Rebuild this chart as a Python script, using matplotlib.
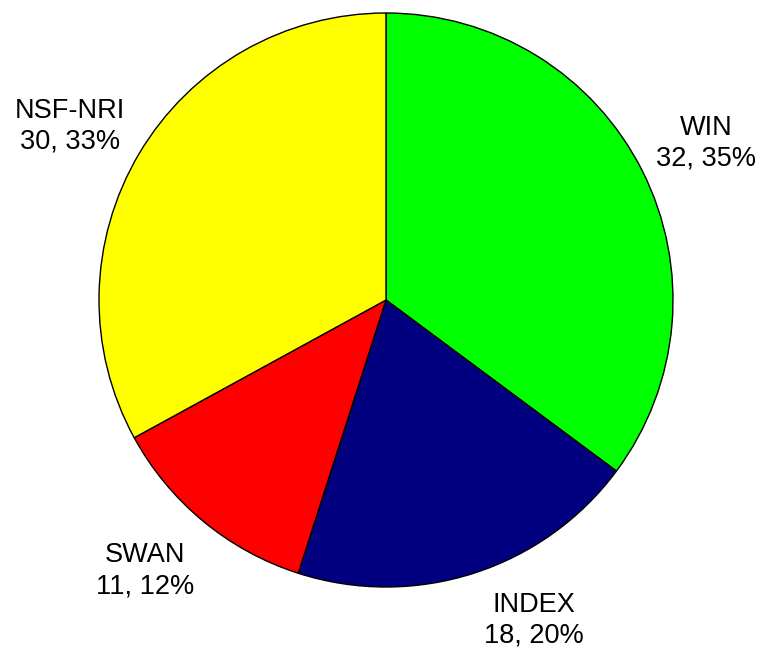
import matplotlib
matplotlib.use("Agg")
import matplotlib.pyplot as plt

names = ["WIN", "INDEX", "SWAN", "NSF-NRI"]
counts = [32, 18, 11, 30]
colors = ["#00ff00", "#000080", "#ff0000", "#ffff00"]

total = sum(counts)
labels = ["%s\n%d, %d%%" % (n, c, round(100.0 * c / total)) for n, c in zip(names, counts)]

plt.rcParams['font.family'] = ['Liberation Sans', 'DejaVu Sans']

fig = plt.figure(figsize=(7.61, 6.53), dpi=100)
# pie centre ~ (386, 300) px, radius ~ 287 px
ax = fig.add_axes([(386 - 287) / 761, (653 - 300 - 287) / 653, 574 / 761, 574 / 653])

wedges, texts = ax.pie(counts, labels=labels, colors=colors, startangle=90,
                       counterclock=False, radius=1.0, labeldistance=1.25,
                       wedgeprops=dict(edgecolor="black", linewidth=1.0),
                       textprops=dict(fontsize=19.5, ha="center", va="center",
                                      linespacing=1.25))

# label placement as in the original (axes units, radius = 1)
label_pos = [(1.115, 0.547), (0.516, -1.115), (-0.840, -0.944), (-1.101, 0.606)]
for t, p in zip(texts, label_pos):
    t.set_position(p)

ax.set_xlim(-1, 1)
ax.set_ylim(-1, 1)
ax.set_aspect("equal")
ax.axis("off")

fig.savefig("out.png", dpi=100)
